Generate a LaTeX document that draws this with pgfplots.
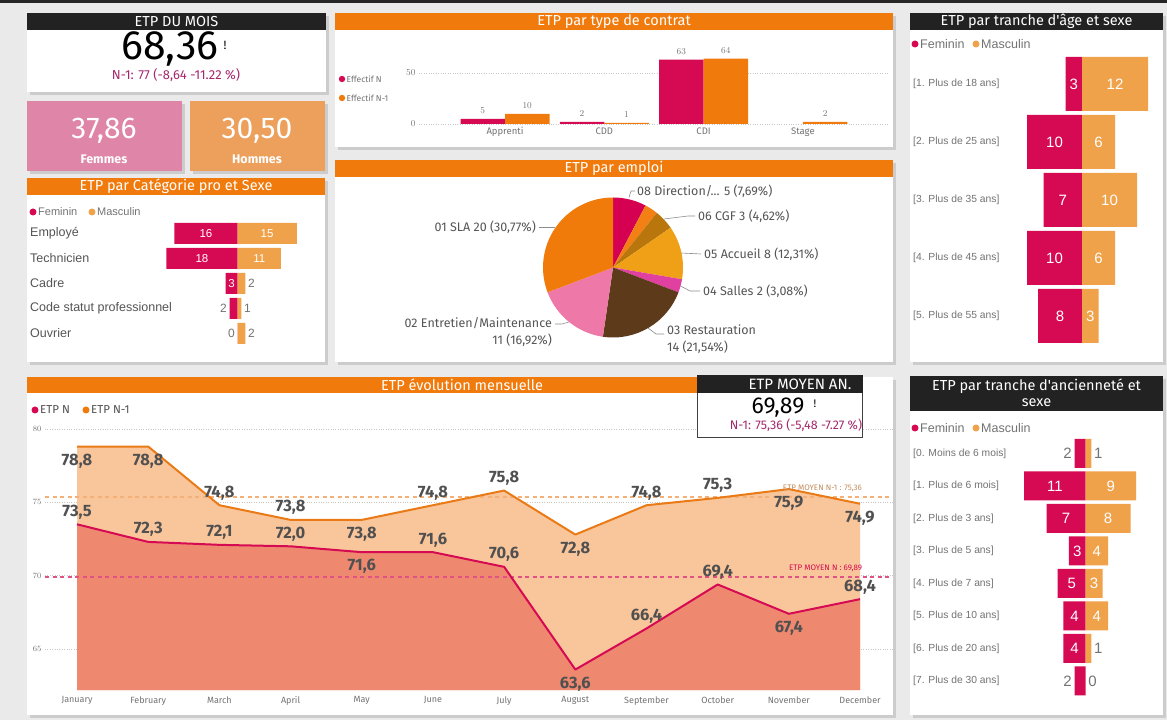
\documentclass[border=0pt]{standalone}
\usepackage{pgfplots}
\pgfplotsset{compat=1.18}
\usepackage{fontspec}
\setmainfont{Liberation Sans}
\newfontfamily\din{Fira Sans}
\newcommand{\fs}[1]{\fontsize{#1}{#1}\selectfont}

\definecolor{bg}{RGB}{234,234,234}
\definecolor{fem}{RGB}{214,10,82}
\definecolor{mas}{RGB}{239,162,74}
\definecolor{hdr}{RGB}{240,122,12}
\definecolor{hk}{RGB}{34,34,34}
\definecolor{txt}{RGB}{85,85,85}
\definecolor{lgray}{RGB}{115,115,115}
\definecolor{dgray}{RGB}{80,80,80}
\definecolor{purp}{RGB}{165,40,110}
\definecolor{pinkcard}{RGB}{223,133,167}
\definecolor{orcard}{RGB}{236,160,92}
\definecolor{peach}{RGB}{249,198,156}
\definecolor{salmon}{RGB}{238,137,112}
\definecolor{lineN1}{RGB}{234,122,22}
\definecolor{meanN1}{RGB}{244,176,118}
\definecolor{meanN}{RGB}{224,82,132}
\definecolor{pDir}{RGB}{214,0,82}
\definecolor{pSev}{RGB}{242,128,20}
\definecolor{pCGF}{RGB}{184,118,12}
\definecolor{pAcc}{RGB}{240,160,22}
\definecolor{pSal}{RGB}{224,64,160}
\definecolor{pRes}{RGB}{92,58,26}
\definecolor{pEnt}{RGB}{238,120,168}
\definecolor{pSLA}{RGB}{240,122,10}

\newcommand{\panel}[4]{%
  \fill[black!20] ({#1+3},{717-#4}) rectangle ({#3+3},{717-#2});
  \fill[white] (#1,{720-#4}) rectangle (#3,{720-#2});}
\newcommand{\hdr}[6]{%
  \fill[#5] (#1,{720-#4}) rectangle (#3,{720-#2});
  \node[text=white, font=\din\fs{14.5}, inner sep=0pt] at ({(#1+#3)/2},{720-(#2+#4)/2}) {#6};}

\tikzset{
  wl/.style={text=white, inner sep=0pt},
  gl/.style={text=lgray, inner sep=2.5pt},
  vl/.style={font=\din\bfseries\fs{16.5}, text=dgray, inner sep=0pt},
  rl/.style={anchor=west, text=lgray, inner sep=0pt}
}
\newcommand{\up}[3]{\node[vl, anchor=south, yshift=5pt] at (axis cs:#1,#2) {#3};}
\newcommand{\dn}[3]{\node[vl, anchor=north, yshift=-7pt] at (axis cs:#1,#2) {#3};}

\begin{document}
\begin{tikzpicture}[x=1pt,y=1pt]
\fill[bg] (0,0) rectangle (1167,720);
\fill[black!85] (0,717) rectangle (1167,720);

% ---------- KPI ETP DU MOIS ----------
\panel{27}{13}{326}{92}
\hdr{27}{13}{326}{30}{hk}{ETP DU MOIS}
\node[font=\din\fs{41}, inner sep=0pt] at (170,671) {68,36};
\node[font=\din\fs{12}, inner sep=0pt] at (225,675) {!};
\node[font=\din\fs{13}, text=purp, inner sep=0pt] at (176,645) {N-1: 77 (-8,64 -11.22 \%)};

% ---------- Femmes / Hommes ----------
\fill[black!20] (30,546) rectangle (185,616);
\fill[pinkcard] (27,549) rectangle (182,619);
\node[text=white, font=\din\fs{30}, inner sep=0pt] at (104,589) {37,86};
\node[text=white, font=\din\bfseries\fs{12.5}, inner sep=0pt] at (104,561) {Femmes};
\fill[black!20] (193,546) rectangle (328,616);
\fill[orcard] (190,549) rectangle (325,619);
\node[text=white, font=\din\fs{30}, inner sep=0pt] at (257,589) {30,50};
\node[text=white, font=\din\bfseries\fs{12.5}, inner sep=0pt] at (257,561) {Hommes};

% ---------- Categorie pro ----------
\panel{27}{178}{325}{362}
\hdr{27}{178}{325}{195}{hdr}{ETP par Catégorie pro et Sexe}
\fill[fem] (33,508) circle (3.5);
\node[rl, font=\fs{11}] at (38,508) {Feminin};
\fill[mas] (92,508) circle (3.5);
\node[rl, font=\fs{11}] at (97,508) {Masculin};
\node[rl, font=\fs{12.5}, text=txt] at (30,486.5) {Employé};
\node[rl, font=\fs{12.5}, text=txt] at (30,461.5) {Technicien};
\node[rl, font=\fs{12.5}, text=txt] at (30,436.5) {Cadre};
\node[rl, font=\fs{12.5}, text=txt] at (30,411.5) {Code statut professionnel};
\node[rl, font=\fs{12.5}, text=txt] at (30,386.5) {Ouvrier};
\begin{axis}[at={(158.5pt,371.5pt)}, anchor=south west, scale only axis,
  width=158pt, height=130pt, xmin=-20, xmax=20, ymin=-4.6, ymax=0.6,
  hide axis, clip=false]
\addplot[xbar, bar width=21pt, bar shift=0pt, fill=fem, draw=none]
  coordinates {(-16,0) (-18,-1) (-3,-2) (-2,-3) (0,-4)};
\addplot[xbar, bar width=21pt, bar shift=0pt, fill=mas, draw=none]
  coordinates {(15,0) (11,-1) (2,-2) (1,-3) (2,-4)};
\node[wl, font=\fs{11.5}] at (axis cs:-8,0) {16};
\node[wl, font=\fs{11.5}] at (axis cs:7.5,0) {15};
\node[wl, font=\fs{11.5}] at (axis cs:-9,-1) {18};
\node[wl, font=\fs{11.5}] at (axis cs:5.5,-1) {11};
\node[wl, font=\fs{11.5}] at (axis cs:-1.5,-2) {3};
\node[gl, font=\fs{12}, anchor=west] at (axis cs:2,-2) {2};
\node[gl, font=\fs{12}, anchor=east] at (axis cs:-2,-3) {2};
\node[gl, font=\fs{12}, anchor=west] at (axis cs:1,-3) {1};
\node[gl, font=\fs{12}, anchor=east] at (axis cs:0,-4) {0};
\node[gl, font=\fs{12}, anchor=west] at (axis cs:2,-4) {2};
\end{axis}

% ---------- Type de contrat ----------
\panel{335}{13}{893}{147}
\hdr{335}{13}{893}{30}{hdr}{ETP par type de contrat}
\fill[fem] (342,641) circle (3.2);
\node[rl, font=\din\fs{8.5}] at (346.5,641) {Effectif N};
\fill[hdr] (342,622) circle (3.2);
\node[rl, font=\din\fs{8.5}] at (346.5,622) {Effectif N-1};
\begin{axis}[at={(419pt,596pt)}, anchor=south west, scale only axis,
  width=469pt, height=71.4pt, xmin=-0.866, xmax=3.857, ymin=0, ymax=70,
  axis line style={draw=none}, major tick length=0pt,
  ymajorgrids, grid style={dotted, line width=0.8pt, black!22},
  ytick={0,50}, xtick={0,1,2,3}, xticklabels={Apprenti,CDD,CDI,Stage},
  tick label style={font=\din\fs{9.5}, text=lgray}, clip=false]
\addplot[ybar, bar width=44.5pt, bar shift=-22.25pt, fill=fem, draw=none,
  nodes near coords, nodes near coords style={font=\din\fs{9.5}, text=lgray, yshift=2pt, xshift=-22.25pt}]
  coordinates {(0,5) (1,2) (2,63)};
\addplot[ybar, bar width=44.5pt, bar shift=22.25pt, fill=hdr, draw=none,
  nodes near coords, nodes near coords style={font=\din\fs{9.5}, text=lgray, yshift=2pt, xshift=22.25pt}]
  coordinates {(0,10) (1,1) (2,64) (3,2)};
\end{axis}

% ---------- Emploi (pie) ----------
\panel{335}{160}{893}{362}
\hdr{335}{160}{893}{177}{hdr}{ETP par emploi}
\begin{axis}[at={(543pt,382.5pt)}, anchor=south west, scale only axis,
  x=70pt, y=70pt, xmin=-1, xmax=1, ymin=-1, ymax=1, hide axis, clip=false]
\gdef\cum{0}
\foreach \v/\c in {5/pDir,2/pSev,3/pCGF,8/pAcc,2/pSal,14/pRes,11/pEnt,20/pSLA}{%
  \pgfmathsetmacro\sa{90-\cum/65*360}%
  \pgfmathsetmacro\sb{90-(\cum+\v)/65*360}%
  \edef\slice{\noexpand\fill[\c] (axis cs:0,0) -- ++(\sa:70pt) arc[start angle=\sa, end angle=\sb, radius=70pt] -- cycle;}%
  \slice
  \pgfmathsetmacro\nn{\cum+\v}%
  \xdef\cum{\nn}%
}
\end{axis}
\begin{scope}[draw=black!45, line width=0.6pt]
\draw (629,522.5) -- (631,529) -- (635,529);
\draw (664,501) -- (688,504) -- (695,504);
\draw (681,467) -- (701,466);
\draw (680.5,434) -- (690,429) -- (700,429);
\draw (648,392) -- (656,386) -- (664,386);
\draw (569,398) -- (562,396) -- (555,396);
\draw (555,493) -- (539,493);
\end{scope}
\tikzset{pl/.style={font=\din\fs{12.5}, text=txt, inner sep=0pt}}
\node[pl, anchor=west] at (637,529) {08 Direction/... 5 (7,69\%)};
\node[pl, anchor=west] at (698,504) {06 CGF 3 (4,62\%)};
\node[pl, anchor=west] at (704,466) {05 Accueil 8 (12,31\%)};
\node[pl, anchor=west] at (703,429) {04 Salles 2 (3,08\%)};
\node[pl, anchor=west] at (667,390) {03 Restauration};
\node[pl, anchor=west] at (667,373) {14 (21,54\%)};
\node[pl, anchor=east] at (552,397) {02 Entretien/Maintenance};
\node[pl, anchor=east] at (552,380) {11 (16,92\%)};
\node[pl, anchor=east] at (536,493) {01 SLA 20 (30,77\%)};

% ---------- Tranche d'age ----------
\panel{910}{13}{1163}{362}
\hdr{910}{13}{1163}{30}{hk}{ETP par tranche d'âge et sexe}
\fill[fem] (915,676) circle (3.5);
\node[rl, font=\fs{12.5}] at (920,676) {Feminin};
\fill[mas] (976,676) circle (3.5);
\node[rl, font=\fs{12.5}] at (981,676) {Masculin};
\node[rl, font=\fs{10.3}] at (913,636) {[1. Plus de 18 ans]};
\node[rl, font=\fs{10.3}] at (913,578) {[2. Plus de 25 ans]};
\node[rl, font=\fs{10.3}] at (913,520) {[3. Plus de 35 ans]};
\node[rl, font=\fs{10.3}] at (913,462) {[4. Plus de 45 ans]};
\node[rl, font=\fs{10.3}] at (913,404) {[5. Plus de 55 ans]};
\begin{axis}[at={(1016pt,369.2pt)}, anchor=south west, scale only axis,
  width=137.5pt, height=301.6pt, xmin=-12, xmax=13, ymin=-4.6, ymax=0.6,
  hide axis, clip=false]
\addplot[xbar, bar width=54pt, bar shift=0pt, fill=fem, draw=none]
  coordinates {(-3,0) (-10,-1) (-7,-2) (-10,-3) (-8,-4)};
\addplot[xbar, bar width=54pt, bar shift=0pt, fill=mas, draw=none]
  coordinates {(12,0) (6,-1) (10,-2) (6,-3) (3,-4)};
\node[wl, font=\fs{15}] at (axis cs:-1.5,0) {3};
\node[wl, font=\fs{15}] at (axis cs:6,0) {12};
\node[wl, font=\fs{15}] at (axis cs:-5,-1) {10};
\node[wl, font=\fs{15}] at (axis cs:3,-1) {6};
\node[wl, font=\fs{15}] at (axis cs:-3.5,-2) {7};
\node[wl, font=\fs{15}] at (axis cs:5,-2) {10};
\node[wl, font=\fs{15}] at (axis cs:-5,-3) {10};
\node[wl, font=\fs{15}] at (axis cs:3,-3) {6};
\node[wl, font=\fs{15}] at (axis cs:-4,-4) {8};
\node[wl, font=\fs{15}] at (axis cs:1.5,-4) {3};
\end{axis}

% ---------- Evolution mensuelle ----------
\panel{27}{377}{893}{715}
\fill[hdr] (27,327) rectangle (697,343);
\node[text=white, font=\din\fs{14.5}, inner sep=0pt] at (462,335) {ETP évolution mensuelle};
\fill[fem] (35,310) circle (3.5);
\node[rl, font=\din\fs{11.5}, text=dgray] at (40,310) {ETP N};
\fill[hdr] (86,310) circle (3.5);
\node[rl, font=\din\fs{11.5}, text=dgray] at (91,310) {ETP N-1};
\begin{axis}[at={(45pt,29.9pt)}, anchor=south west, scale only axis,
  width=847.8pt, height=268.5pt, xmin=-0.45, xmax=11.46, ymin=62.2, ymax=80.5,
  axis line style={draw=none}, major tick length=0pt,
  ytick={65,70,75,80}, ymajorgrids, grid style={dotted, line width=0.8pt, black!22},
  xtick={0,...,11},
  xticklabels={January,February,March,April,May,June,July,August,September,October,November,December},
  tick label style={font=\din\fs{9}, text=lgray},
  yticklabel style={font=\din\fs{8.5}},
  xticklabel style={yshift=-3pt},
  clip mode=individual]
\addplot[fill=peach, draw=none] coordinates {
  (0,78.8) (1,78.8) (2,74.8) (3,73.8) (4,73.8) (5,74.8)
  (6,75.8) (7,72.8) (8,74.8) (9,75.3) (10,75.9) (11,74.9)} \closedcycle;
\addplot[fill=salmon, draw=none] coordinates {
  (0,73.5) (1,72.3) (2,72.1) (3,72.0) (4,71.6) (5,71.6)
  (6,70.6) (7,63.6) (8,66.4) (9,69.4) (10,67.4) (11,68.4)} \closedcycle;
\addplot[meanN1, line width=1.6pt, dash pattern=on 4pt off 3.5pt]
  coordinates {(-0.45,75.36) (11.46,75.36)};
\addplot[meanN, line width=1.6pt, dash pattern=on 4pt off 3.5pt]
  coordinates {(-0.45,69.89) (11.46,69.89)};
\addplot[lineN1, line width=2pt, line join=round, mark=none] coordinates {
  (0,78.8) (1,78.8) (2,74.8) (3,73.8) (4,73.8) (5,74.8)
  (6,75.8) (7,72.8) (8,74.8) (9,75.3) (10,75.9) (11,74.9)};
\addplot[fem, line width=2pt, line join=round, mark=none] coordinates {
  (0,73.5) (1,72.3) (2,72.1) (3,72.0) (4,71.6) (5,71.6)
  (6,70.6) (7,63.6) (8,66.4) (9,69.4) (10,67.4) (11,68.4)};
\node[font=\din\fs{8}, text=meanN1!80!black, anchor=south east, inner sep=0pt, yshift=5pt] at (axis cs:11.03,75.36) {ETP MOYEN N-1 : 75,36};
\node[font=\din\fs{8}, text=fem, anchor=south east, inner sep=0pt, yshift=5pt] at (axis cs:11.03,69.89) {ETP MOYEN N : 69,89};
% N-1 labels
\dn{0}{78.8}{78,8} \dn{1}{78.8}{78,8} \up{2}{74.8}{74,8} \up{3}{73.8}{73,8}
\dn{4}{73.8}{73,8} \up{5}{74.8}{74,8} \up{6}{75.8}{75,8} \dn{7}{72.8}{72,8}
\up{8}{74.8}{74,8} \up{9}{75.3}{75,3} \dn{10}{75.9}{75,9} \dn{11}{74.9}{74,9}
% N labels
\up{0}{73.5}{73,5} \up{1}{72.3}{72,3} \up{2}{72.1}{72,1} \up{3}{72.0}{72,0}
\dn{4}{71.6}{71,6} \up{5}{71.6}{71,6} \up{6}{70.6}{70,6} \dn{7}{63.6}{63,6}
\up{8}{66.4}{66,4} \up{9}{69.4}{69,4} \dn{10}{67.4}{67,4} \up{11}{68.4}{68,4}
\end{axis}

% ---------- ETP MOYEN AN. ----------
\fill[white] (697,282) rectangle (863,343);
\draw[black!75, line width=1pt] (697.5,282.5) rectangle (862.5,343);
\fill[hk] (697,327) rectangle (863,345);
\node[text=white, font=\din\fs{15}, inner sep=0pt] at (800,335.5) {ETP MOYEN AN.};
\node[font=\din\fs{23}, inner sep=0pt] at (778,312.5) {69,89};
\node[font=\din\fs{11}, inner sep=0pt] at (815,316) {!};
\node[font=\din\fs{12.5}, text=purp, inner sep=0pt] at (796,294.5) {N-1: 75,36 (-5,48 -7.27 \%)};

% ---------- Anciennete ----------
\panel{910}{376}{1163}{715}
\fill[hk] (910,309) rectangle (1163,344);
\node[text=white, font=\din\fs{14.5}, inner sep=0pt] at (1036.5,334) {ETP par tranche d'ancienneté et};
\node[text=white, font=\din\fs{14.5}, inner sep=0pt] at (1036.5,317) {sexe};
\fill[fem] (915,292) circle (3.5);
\node[rl, font=\fs{12.5}] at (920,292) {Feminin};
\fill[mas] (976,292) circle (3.5);
\node[rl, font=\fs{12.5}] at (981,292) {Masculin};
\node[rl, font=\fs{10.3}] at (913,266.5) {[0. Moins de 6 mois]};
\node[rl, font=\fs{10.3}] at (913,234) {[1. Plus de 6 mois]};
\node[rl, font=\fs{10.3}] at (913,201.5) {[2. Plus de 3 ans]};
\node[rl, font=\fs{10.3}] at (913,169) {[3. Plus de 5 ans]};
\node[rl, font=\fs{10.3}] at (913,136.5) {[4. Plus de 7 ans]};
\node[rl, font=\fs{10.3}] at (913,104) {[5. Plus de 10 ans]};
\node[rl, font=\fs{10.3}] at (913,71.5) {[6. Plus de 20 ans]};
\node[rl, font=\fs{10.3}] at (913,39) {[7. Plus de 30 ans]};
\begin{axis}[at={(1018.5pt,19.5pt)}, anchor=south west, scale only axis,
  width=140pt, height=266.5pt, xmin=-12, xmax=13, ymin=-7.6, ymax=0.6,
  hide axis, clip=false]
\addplot[xbar, bar width=29pt, bar shift=0pt, fill=fem, draw=none]
  coordinates {(-2,0) (-11,-1) (-7,-2) (-3,-3) (-5,-4) (-4,-5) (-4,-6) (-2,-7)};
\addplot[xbar, bar width=29pt, bar shift=0pt, fill=mas, draw=none]
  coordinates {(1,0) (9,-1) (8,-2) (4,-3) (3,-4) (4,-5) (1,-6) (0,-7)};
\node[gl, font=\fs{15}, anchor=east] at (axis cs:-2,0) {2};
\node[gl, font=\fs{15}, anchor=west] at (axis cs:1,0) {1};
\node[wl, font=\fs{15}] at (axis cs:-5.5,-1) {11};
\node[wl, font=\fs{15}] at (axis cs:4.5,-1) {9};
\node[wl, font=\fs{15}] at (axis cs:-3.5,-2) {7};
\node[wl, font=\fs{15}] at (axis cs:4,-2) {8};
\node[wl, font=\fs{15}] at (axis cs:-1.5,-3) {3};
\node[wl, font=\fs{15}] at (axis cs:2,-3) {4};
\node[wl, font=\fs{15}] at (axis cs:-2.5,-4) {5};
\node[wl, font=\fs{15}] at (axis cs:1.5,-4) {3};
\node[wl, font=\fs{15}] at (axis cs:-2,-5) {4};
\node[wl, font=\fs{15}] at (axis cs:2,-5) {4};
\node[wl, font=\fs{15}] at (axis cs:-2,-6) {4};
\node[gl, font=\fs{15}, anchor=west] at (axis cs:1,-6) {1};
\node[gl, font=\fs{15}, anchor=east] at (axis cs:-2,-7) {2};
\node[gl, font=\fs{15}, anchor=west] at (axis cs:0,-7) {0};
\end{axis}
\pgfresetboundingbox
\path[use as bounding box] (0,0) rectangle (1167,720);
\end{tikzpicture}
\end{document}
